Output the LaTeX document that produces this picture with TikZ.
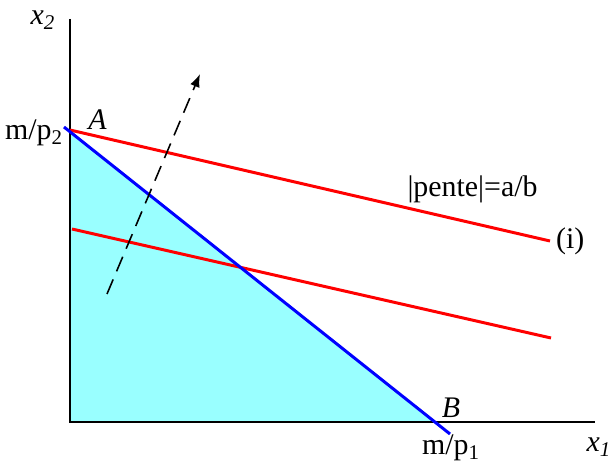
\documentclass[tikz,border=0pt]{standalone}
\usepackage{fontspec}
\setmainfont{Liberation Serif}
\usetikzlibrary{arrows.meta,positioning,calc}
\definecolor{setfill}{RGB}{153,255,255}

\begin{document}
\begin{tikzpicture}[font=\fontsize{17}{19}\selectfont,
  axis/.style={line width=1.1pt},
  budget/.style={draw=blue, line width=1.7pt},
  indiff/.style={draw=red, line width=1.7pt},
  arr/.style={-{Latex[length=2.6mm,width=2mm]}, dashed, dash pattern=on 9pt off 5pt, line width=0.9pt}]
\useasboundingbox (0,0) rectangle (12.2,9.26);
% points
\coordinate (o) at (1.4,0.82);
\coordinate (ytop) at (1.4,8.88);
\coordinate (xend) at (11.9,0.82);
\coordinate (pa) at (1.4,6.64);
\coordinate (pb) at (8.7,0.82);
\coordinate (bs) at (1.28,6.72);
\coordinate (be) at (9.0,0.58);
\coordinate (r1s) at (1.4,6.66);
\coordinate (r1e) at (11.0,4.44);
\coordinate (r2s) at (1.44,4.68);
\coordinate (r2e) at (11.02,2.5);
\coordinate (ds) at (2.14,3.38);
\coordinate (de) at (4.0,7.78);
% budget set
\fill[setfill] (o) -- (pa) -- (pb) -- cycle;
\draw[axis] (ytop) -- (o) -- (xend);
\draw[indiff] (r1s) -- (r1e);
\draw[indiff] (r2s) -- (r2e);
\draw[budget] (bs) -- (be);
\draw[arr] (ds) -- (de);
% labels
\node (lx2) at (0.86,8.86) {\textit{x\textsubscript{2}}};
\node (lx1) at (11.98,0.32) {\textit{x\textsubscript{1}}};
\node (lmp2) at (0.68,6.6) {m/p\textsubscript{2}};
\node (lmp1) at (9.02,0.3) {m/p\textsubscript{1}};
\node (la) at (1.95,6.86) {\textit{A}};
\node (lb) at (9.02,1.1) {\textit{B}};
\node (lpente) at (9.45,5.48) {|pente|=a/b};
\node[right=0pt of r1e] (li) {(i)};
\end{tikzpicture}
\end{document}
